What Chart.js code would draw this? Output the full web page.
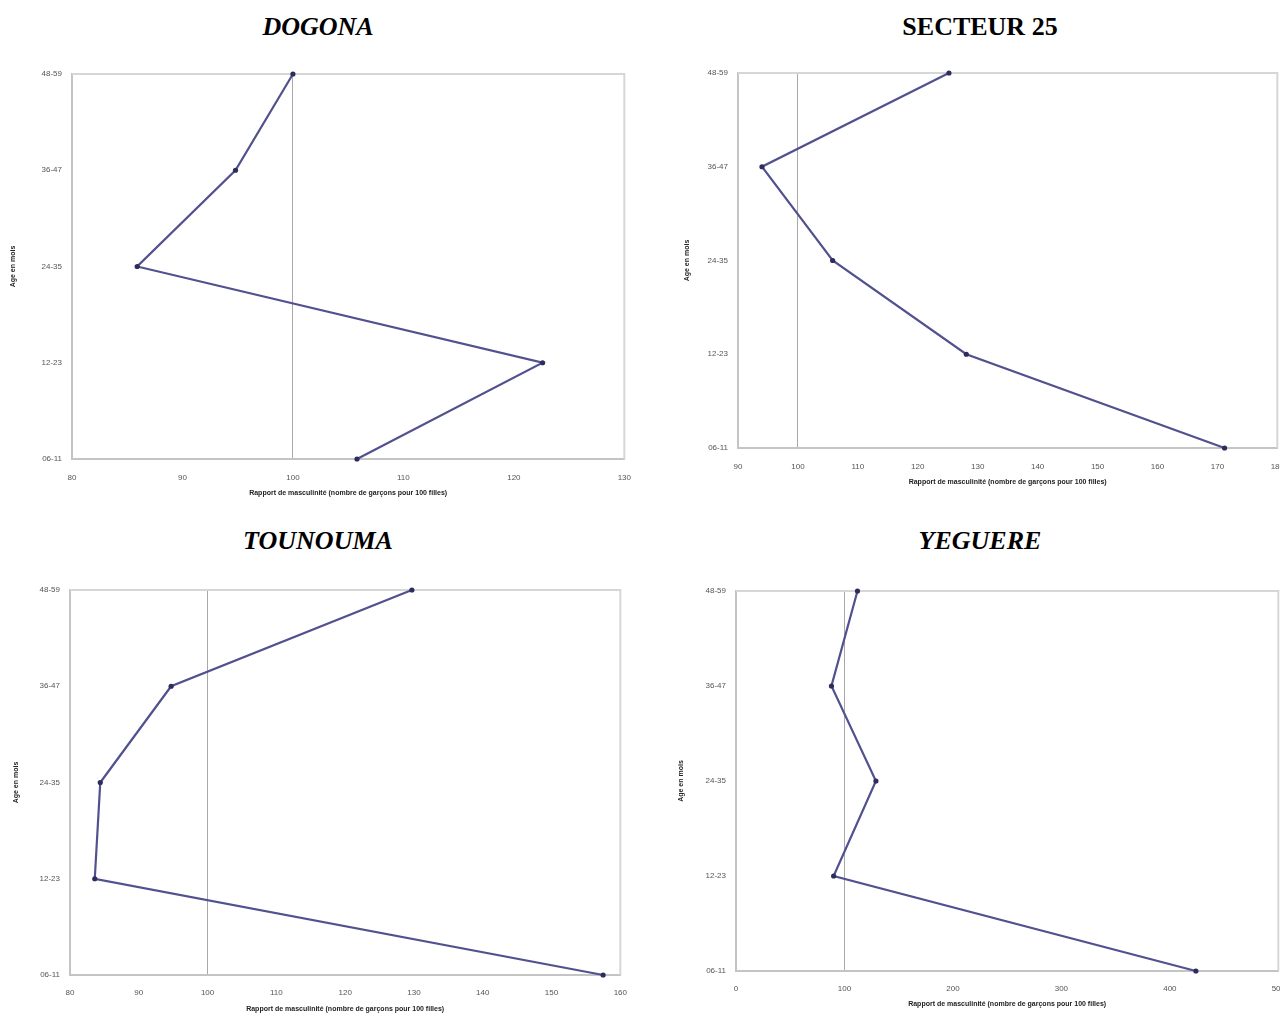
<!DOCTYPE html>
<html>
<head>
<meta charset="utf-8">
<script src="https://cdn.jsdelivr.net/npm/chart.js@4.4.1/dist/chart.umd.min.js"></script>
<style>
  html, body { margin: 0; padding: 0; background: #fff; overflow: hidden; }
  body { width: 1280px; height: 1014px; position: relative; }
  canvas { position: absolute; }
  .ttl {
    position: absolute;
    transform: translate(-50%, -50%);
    font-family: "Liberation Serif", "Times New Roman", serif;
    font-weight: bold;
    font-style: italic;
    font-size: 26px;
    color: #000;
    white-space: nowrap;
  }
</style>
</head>
<body>
<div class="ttl" style="left:318px; top:27px;">DOGONA</div>
<div class="ttl" style="left:980px; top:27px; font-style:normal;">SECTEUR 25</div>
<div class="ttl" style="left:318px; top:541px;">TOUNOUMA</div>
<div class="ttl" style="left:980px; top:541px;">YEGUERE</div>

<canvas id="c1"></canvas>
<canvas id="c2"></canvas>
<canvas id="c3"></canvas>
<canvas id="c4"></canvas>

<script>
// age groups, top to bottom
const ageGroups = ['48-59', '36-47', '24-35', '12-23', '06-11'];

// rapport de masculinite per age group
const dogona = [100.0, 94.8, 85.9, 122.6, 105.8];
const secteur25 = [125.2, 94.0, 105.8, 128.1, 171.2];
const tounouma = [129.7, 94.7, 84.4, 83.6, 157.5];
const yeguere = [112, 88, 129, 90, 424];

// x axis ranges [min, max, step]
const dogonaTicks = [80, 130, 10];
const secteur25Ticks = [90, 180, 10];
const tounoumaTicks = [80, 160, 10];
const yeguereTicks = [0, 500, 100];

const refValue = 100;

const xTitle = 'Rapport de masculinité (nombre de garçons pour 100 filles)';
const yTitle = 'Age en mois';

// light frame on top / right of plot area
const framePlugin = {
  id: 'frame',
  beforeDatasetsDraw(chart) {
    const a = chart.chartArea, ctx = chart.ctx;
    ctx.save();
    ctx.strokeStyle = '#d6d6d6';
    ctx.lineWidth = 2;
    ctx.beginPath();
    ctx.moveTo(a.left, a.top);
    ctx.lineTo(a.right, a.top);
    ctx.lineTo(a.right, a.bottom);
    ctx.stroke();
    ctx.restore();
  }
};

function makeChart(id, box, values, ticks, lay) {
  const cv = document.getElementById(id);
  cv.width = box.w; cv.height = box.h;
  cv.style.left = box.x + 'px'; cv.style.top = box.y + 'px';
  cv.style.width = box.w + 'px'; cv.style.height = box.h + 'px';

  return new Chart(cv.getContext('2d'), {
    type: 'line',
    data: {
      labels: ageGroups,
      datasets: [{
        data: values,
        borderColor: '#51518f',
        borderWidth: 2.2,
        pointRadius: 2.6,
        pointBackgroundColor: '#2d2d5c',
        pointBorderWidth: 0,
        tension: 0,
        clip: false
      }]
    },
    options: {
      indexAxis: 'y',
      responsive: false,
      animation: false,
      layout: { padding: { top: lay.top, right: lay.right, left: 0, bottom: 0 } },
      plugins: { legend: { display: false }, tooltip: { enabled: false } },
      scales: {
        x: {
          type: 'linear',
          min: ticks[0], max: ticks[1],
          afterFit(s) { s.height = lay.xh; },
          ticks: {
            stepSize: ticks[2],
            padding: lay.tp,
            color: '#555',
            font: { family: 'Liberation Sans, Arial', size: 8 },
            maxRotation: 0
          },
          grid: {
            drawTicks: false,
            color: c => (c.tick && c.tick.value === refValue) ? '#a8a8a8' : 'rgba(0,0,0,0)',
            lineWidth: 1
          },
          border: { color: '#c4c4c4', width: 2 },
          title: {
            display: true,
            text: xTitle,
            color: '#222',
            font: { family: 'Liberation Sans, Arial', size: 7, weight: 'bold' },
            padding: { top: 0, bottom: lay.tb }
          }
        },
        y: {
          type: 'category',
          offset: false,
          afterFit(s) { s.width = lay.yw; },
          ticks: {
            padding: 10,
            color: '#555',
            font: { family: 'Liberation Sans, Arial', size: 8 }
          },
          grid: { display: false, drawTicks: false },
          border: { color: '#c4c4c4', width: 2 },
          title: {
            display: true,
            text: yTitle,
            color: '#222',
            font: { family: 'Liberation Sans, Arial', size: 7, weight: 'bold' },
            padding: { top: lay.yt, bottom: 0 }
          }
        }
      }
    },
    plugins: [framePlugin]
  });
}

makeChart('c1', { x: 0, y: 50, w: 645, h: 455 }, dogona, dogonaTicks,
  { top: 24, right: 11, xh: 46, tp: 14, tb: 8, yw: 72, yt: 9 });
makeChart('c2', { x: 640, y: 50, w: 658, h: 440 }, secteur25, secteur25Ticks,
  { top: 23, right: 4, xh: 42, tp: 14, tb: 4, yw: 98, yt: 43 });
makeChart('c3', { x: 0, y: 564, w: 640, h: 450 }, tounouma, tounoumaTicks,
  { top: 26, right: 19, xh: 39, tp: 13, tb: 1, yw: 70, yt: 12 });
makeChart('c4', { x: 640, y: 564, w: 658, h: 450 }, yeguere, yeguereTicks,
  { top: 27, right: 4, xh: 43, tp: 13, tb: 6, yw: 96, yt: 37 });
</script>
</body>
</html>
